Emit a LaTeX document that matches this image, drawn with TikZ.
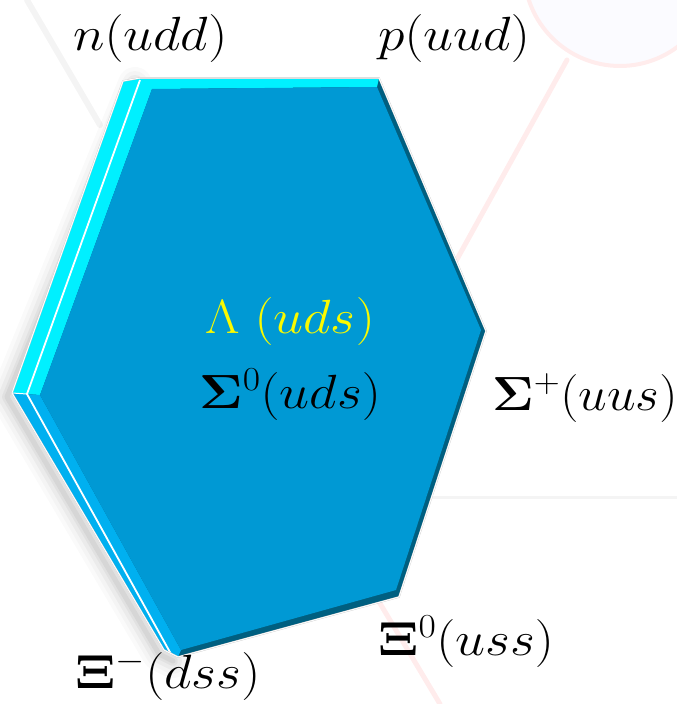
\RequirePackage{fix-cm}
\documentclass[tikz,border=0pt]{standalone}
\usetikzlibrary{calc}
\definecolor{cyanband}{RGB}{0,240,255}
\definecolor{lowband}{RGB}{0,176,240}
\definecolor{facecol}{RGB}{0,153,212}
\definecolor{darkedge}{RGB}{0,95,128}
\definecolor{faintpink}{RGB}{255,236,236}
\definecolor{faintgray}{RGB}{244,244,244}
\definecolor{lambdacol}{RGB}{250,250,0}
\begin{document}
\begin{tikzpicture}[x=1pt,y=-1pt,
  lbl/.style={inner sep=0pt, anchor=base west, xscale=1.12, font=\fontsize{48}{56}\selectfont},
  bgline/.style={line width=5pt, line cap=round},
  shadowstroke/.style={black, line join=round, line cap=round}]
\useasboundingbox (0,0) rectangle (677,704);
% faint background marks
\fill[blue!1.5] (620,-30) circle (96);
\draw[faintpink, line width=4pt] (620,-30) circle (96);
\coordinate (p1) at (567,60);
\coordinate (p2) at (440,290);
\coordinate (p3) at (378,600);
\coordinate (p4) at (440,704);
\coordinate (g1) at (27,0);
\coordinate (g2) at (100,125);
\coordinate (h1) at (430,497);
\coordinate (h2) at (677,497);
\draw[bgline, faintpink] (p1) -- (p2);
\draw[bgline, faintpink] (p3) -- (p4);
\draw[bgline, faintgray, line width=6pt] (g1) -- (g2);
\draw[faintgray, line width=3pt] (h1) -- (h2);
% outer (back) outline
\coordinate (B1) at (123,81);
\coordinate (Bt) at (140,78);
\coordinate (B2) at (379,78);
\coordinate (B3) at (486,331);
\coordinate (B4) at (399,597);
\coordinate (B5) at (178,657);
\coordinate (B5a) at (164,650);
\coordinate (B6) at (12,393);
% front face
\coordinate (F1) at (152,89);
\coordinate (F2) at (377,87);
\coordinate (F3) at (481,330);
\coordinate (F4) at (396,590);
\coordinate (F5) at (181,650);
\coordinate (F6) at (40,395);
% white line in the bevel
\coordinate (W1) at (140,80);
\coordinate (W6) at (27,394);
\coordinate (W5) at (171,654);
% soft shadow
\begin{scope}[transform canvas={xshift=-5pt,yshift=-4pt}]
\foreach \w/\o in {34/0.02, 26/0.025, 18/0.035, 10/0.045, 5/0.05}
  \draw[shadowstroke, line width=\w pt, opacity=\o] (W1) -- (B6) -- (B5a) -- (B5);
\end{scope}
% solid
\fill[darkedge] (B1) -- (Bt) -- (B2) -- (B3) -- (B4) -- (B5) -- (B5a) -- (B6) -- cycle;
\fill[cyanband] (B1) -- (Bt) -- (B2) -- (F2) -- (F1) -- (F6) -- (B6) -- cycle;
\fill[lowband] (B6) -- (F6) -- (F5) -- (B5) -- (B5a) -- cycle;
\fill[facecol] (F1) -- (F2) -- (F3) -- (F4) -- (F5) -- (F6) -- cycle;
\draw[white, line width=1.8pt, line join=round] (W1) -- (W6) -- (W5);
\draw[white, line width=1pt] (B6) -- (W6);
\draw[black!20, line width=1.6pt, line join=round] (B1) -- (Bt) -- (B2) -- (B3) -- (B4) -- (B5) -- (B5a) -- (B6) -- cycle;
\draw[white, line width=0.9pt, line join=round] (B1) -- (Bt) -- (B2) -- (B3) -- (B4) -- (B5) -- (B5a) -- (B6) -- cycle;
% labels
\node[lbl] (n) at (73,50) {$n(udd)$};
\node[lbl] (p) at (378,50) {$p(uud)$};
\node[lbl, text=lambdacol] (lam) at (205,333) {$\Lambda\;(uds)$};
\node[lbl] (s0) at (199,408) {$\mathbf{\Sigma}^0(uds)$};
\node[lbl, xscale=0.955] (sp) at (492,410) {$\mathbf{\Sigma}^+(uus)$};
\node[lbl] (x0) at (378,655) {$\mathbf{\Xi}^0(uss)$};
\node[lbl] (xm) at (75,688) {$\mathbf{\Xi}^-(dss)$};
\end{tikzpicture}
\end{document}
